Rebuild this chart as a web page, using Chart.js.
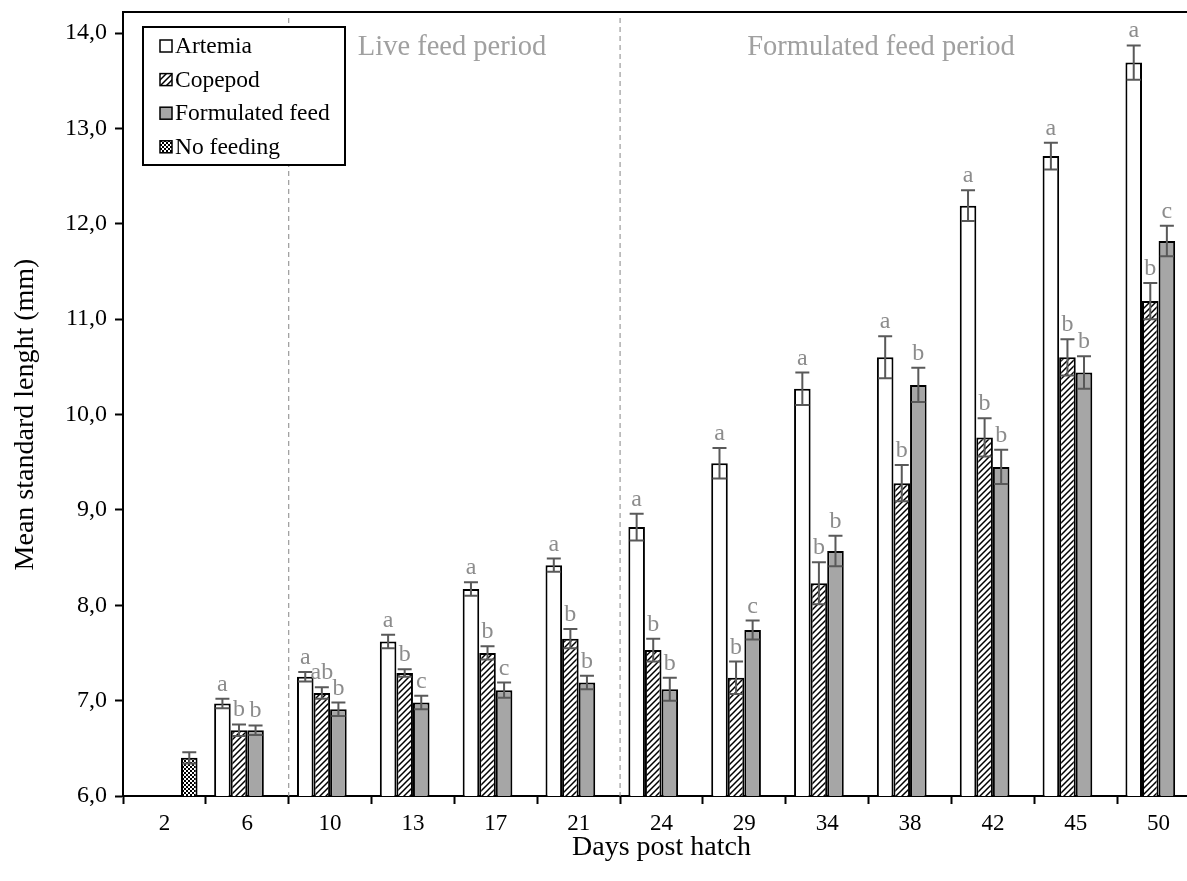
<!DOCTYPE html>
<html lang="en">
<head>
    <meta charset="UTF-8">
    <title>Mean standard length</title>
    <script src="https://cdn.jsdelivr.net/npm/chart.js"></script>
    <style>
        html, body { margin: 0; padding: 0; background: #fff; overflow: hidden; }
    </style>
</head>
<body>
    <canvas id="lengthChart" width="1200" height="881"></canvas>
    <script>
        // days post hatch
        const days = ['2', '6', '10', '13', '17', '21', '24', '29', '34', '38', '42', '45', '50'];

        // mean values (mm) and error bars
        const artemia       = [null, 6.97, 7.25, 7.62, 8.17, 8.42, 8.82, 9.49, 10.27, 10.60, 12.19, 12.71, 13.69];
        const artemiaErr    = [null, 0.05, 0.05, 0.07, 0.07, 0.07, 0.14, 0.16, 0.17, 0.22, 0.16, 0.14, 0.18];
        const copepod       = [null, 6.69, 7.08, 7.29, 7.50, 7.65, 7.53, 7.24, 8.23, 9.28, 9.76, 10.60, 11.19];
        const copepodErr    = [null, 0.06, 0.06, 0.04, 0.07, 0.10, 0.12, 0.17, 0.22, 0.19, 0.20, 0.19, 0.19];
        const formulated    = [null, 6.69, 6.91, 6.98, 7.11, 7.19, 7.12, 7.74, 8.57, 10.31, 9.45, 10.44, 11.82];
        const formulatedErr = [null, 0.05, 0.07, 0.07, 0.08, 0.07, 0.12, 0.10, 0.16, 0.18, 0.18, 0.17, 0.16];
        const noFeeding     = [6.40, null, null, null, null, null, null, null, null, null, null, null, null];
        const noFeedingErr  = [0.06, null, null, null, null, null, null, null, null, null, null, null, null];

        // significance letters
        const artemiaLetters    = ['', 'a', 'a', 'a', 'a', 'a', 'a', 'a', 'a', 'a', 'a', 'a', 'a'];
        const copepodLetters    = ['', 'b', 'ab', 'b', 'b', 'b', 'b', 'b', 'b', 'b', 'b', 'b', 'b'];
        const formulatedLetters = ['', 'b', 'b', 'c', 'c', 'b', 'b', 'c', 'b', 'b', 'b', 'b', 'c'];
        const noFeedingLetters  = ['', '', '', '', '', '', '', '', '', '', '', '', ''];

        const FONT = "'Liberation Serif', 'Times New Roman', serif";
        Chart.defaults.font.family = FONT;
        Chart.defaults.color = '#000';

        const FRAME_TOP = 12;   // top border of the plot frame (above the 14,0 tick)

        // fill patterns
        function hatchPattern() {
            const c = document.createElement('canvas');
            c.width = 6; c.height = 6;
            const g = c.getContext('2d');
            g.fillStyle = '#fff';
            g.fillRect(0, 0, 6, 6);
            g.strokeStyle = '#000';
            g.lineWidth = 1.5;
            g.beginPath();
            g.moveTo(0, 6); g.lineTo(6, 0);
            g.moveTo(-1, 1); g.lineTo(1, -1);
            g.moveTo(5, 7); g.lineTo(7, 5);
            g.stroke();
            return g.createPattern(c, 'repeat');
        }
        function checkerPattern() {
            const c = document.createElement('canvas');
            c.width = 4; c.height = 4;
            const g = c.getContext('2d');
            g.fillStyle = '#fff';
            g.fillRect(0, 0, 4, 4);
            g.fillStyle = '#000';
            g.fillRect(0, 0, 2, 2);
            g.fillRect(2, 2, 2, 2);
            return g.createPattern(c, 'repeat');
        }

        const errors = [artemiaErr, copepodErr, formulatedErr, noFeedingErr];
        const letters = [artemiaLetters, copepodLetters, formulatedLetters, noFeedingLetters];

        // error bars + letters
        const errorBarPlugin = {
            id: 'errorBars',
            afterDatasetsDraw(chart) {
                const ctx = chart.ctx;
                const y = chart.scales.y;
                ctx.save();
                chart.data.datasets.forEach((ds, i) => {
                    const meta = chart.getDatasetMeta(i);
                    meta.data.forEach((bar, j) => {
                        const v = ds.data[j];
                        if (v == null) return;
                        const e = errors[i][j] || 0;
                        const yTop = y.getPixelForValue(v + e);
                        const yBot = y.getPixelForValue(v - e);
                        ctx.strokeStyle = '#595959';
                        ctx.lineWidth = 2;
                        ctx.beginPath();
                        ctx.moveTo(bar.x, yTop); ctx.lineTo(bar.x, yBot);
                        ctx.moveTo(bar.x - 7, yTop); ctx.lineTo(bar.x + 7, yTop);
                        ctx.moveTo(bar.x - 7, yBot); ctx.lineTo(bar.x + 7, yBot);
                        ctx.stroke();
                        const txt = letters[i][j];
                        if (txt) {
                            ctx.fillStyle = '#8c8c8c';
                            ctx.font = '24px ' + FONT;
                            ctx.textAlign = 'center';
                            ctx.textBaseline = 'alphabetic';
                            ctx.fillText(txt, bar.x, yTop - 8);
                        }
                    });
                });
                ctx.restore();
            }
        };

        // period separators, period names, frame, legend
        const decorPlugin = {
            id: 'decor',
            beforeDatasetsDraw(chart) {
                const ctx = chart.ctx;
                const x = chart.scales.x;
                const area = chart.chartArea;
                const b1 = (x.getPixelForValue(1) + x.getPixelForValue(2)) / 2;
                const b2 = (x.getPixelForValue(5) + x.getPixelForValue(6)) / 2;
                ctx.save();
                ctx.strokeStyle = '#9a9a9a';
                ctx.lineWidth = 1.2;
                ctx.setLineDash([5, 4]);
                ctx.beginPath();
                ctx.moveTo(b1, FRAME_TOP + 6); ctx.lineTo(b1, area.bottom);
                ctx.moveTo(b2, FRAME_TOP + 6); ctx.lineTo(b2, area.bottom);
                ctx.stroke();
                ctx.restore();
            },
            afterDraw(chart) {
                const ctx = chart.ctx;
                const area = chart.chartArea;
                ctx.save();
                // frame: left axis extension and top border
                ctx.strokeStyle = '#000';
                ctx.lineWidth = 2;
                ctx.beginPath();
                ctx.moveTo(area.left, area.top + 1);
                ctx.lineTo(area.left, FRAME_TOP);
                ctx.moveTo(area.left - 1, FRAME_TOP);
                ctx.lineTo(chart.width, FRAME_TOP);
                ctx.stroke();

                // period names
                ctx.fillStyle = '#a0a0a0';
                ctx.font = '28.5px ' + FONT;
                ctx.textAlign = 'center';
                ctx.textBaseline = 'alphabetic';
                ctx.fillText('Live feed period', 452, 55);
                ctx.fillText('Formulated feed period', 881, 55);

                // legend
                const lx = 143, ly = 27, lw = 202, lh = 138;
                ctx.fillStyle = '#fff';
                ctx.fillRect(lx, ly, lw, lh);
                ctx.strokeStyle = '#000';
                ctx.lineWidth = 2;
                ctx.strokeRect(lx, ly, lw, lh);
                ctx.font = '23.5px ' + FONT;
                ctx.textAlign = 'left';
                ctx.textBaseline = 'middle';
                chart.data.datasets.forEach((ds, i) => {
                    const cy = 46 + i * 33.6;
                    ctx.fillStyle = ds.backgroundColor;
                    ctx.fillRect(160, cy - 6, 12, 12);
                    ctx.strokeStyle = '#000';
                    ctx.lineWidth = 1.5;
                    ctx.strokeRect(160, cy - 6, 12, 12);
                    ctx.fillStyle = '#000';
                    ctx.fillText(ds.label, 175, cy + 1);
                });
                ctx.restore();
            }
        };

        const ctx = document.getElementById('lengthChart').getContext('2d');
        const lengthChart = new Chart(ctx, {
            type: 'bar',
            data: {
                labels: days,
                datasets: [{
                    label: 'Artemia',
                    data: artemia,
                    backgroundColor: '#ffffff',
                    borderColor: '#000',
                    borderWidth: 2
                }, {
                    label: 'Copepod',
                    data: copepod,
                    backgroundColor: hatchPattern(),
                    borderColor: '#000',
                    borderWidth: 2
                }, {
                    label: 'Formulated feed',
                    data: formulated,
                    backgroundColor: '#a6a6a6',
                    borderColor: '#000',
                    borderWidth: 2
                }, {
                    label: 'No feeding',
                    data: noFeeding,
                    backgroundColor: checkerPattern(),
                    borderColor: '#000',
                    borderWidth: 2
                }]
            },
            options: {
                responsive: false,
                animation: false,
                devicePixelRatio: 1,
                layout: { padding: { top: 33, left: 0, right: 0, bottom: 0 } },
                datasets: {
                    bar: { categoryPercentage: 0.8, barPercentage: 1.0 }
                },
                plugins: {
                    legend: { display: false },
                    tooltip: { enabled: false }
                },
                scales: {
                    x: {
                        afterFit: (s) => { s.height = 85; s.paddingLeft = 0; s.paddingRight = 0; },
                        grid: {
                            display: true,
                            offset: true,
                            drawOnChartArea: false,
                            drawTicks: true,
                            tickLength: 8,
                            tickColor: '#000',
                            tickWidth: 2
                        },
                        border: { display: true, color: '#000', width: 2 },
                        ticks: {
                            font: { size: 23 },
                            color: '#000',
                            padding: 6,
                            maxRotation: 0,
                            autoSkip: false
                        },
                        title: {
                            display: true,
                            text: 'Days post hatch',
                            font: { size: 28 },
                            color: '#000',
                            padding: { top: 0, bottom: 17 }
                        }
                    },
                    y: {
                        min: 6,
                        max: 14,
                        afterFit: (s) => { s.width = 123; s.paddingTop = 0; s.paddingBottom = 0; },
                        grid: {
                            display: true,
                            drawOnChartArea: false,
                            drawTicks: true,
                            tickLength: 8,
                            tickColor: '#000',
                            tickWidth: 2
                        },
                        border: { display: true, color: '#000', width: 2 },
                        ticks: {
                            stepSize: 1,
                            font: { size: 24 },
                            color: '#000',
                            padding: 8,
                            callback: (v) => Number(v).toFixed(1).replace('.', ',')
                        },
                        title: {
                            display: true,
                            text: 'Mean standard lenght (mm)',
                            font: { size: 28 },
                            color: '#000',
                            padding: { top: 9, bottom: 0 }
                        }
                    }
                }
            },
            plugins: [decorPlugin, errorBarPlugin]
        });
    </script>
</body>
</html>
